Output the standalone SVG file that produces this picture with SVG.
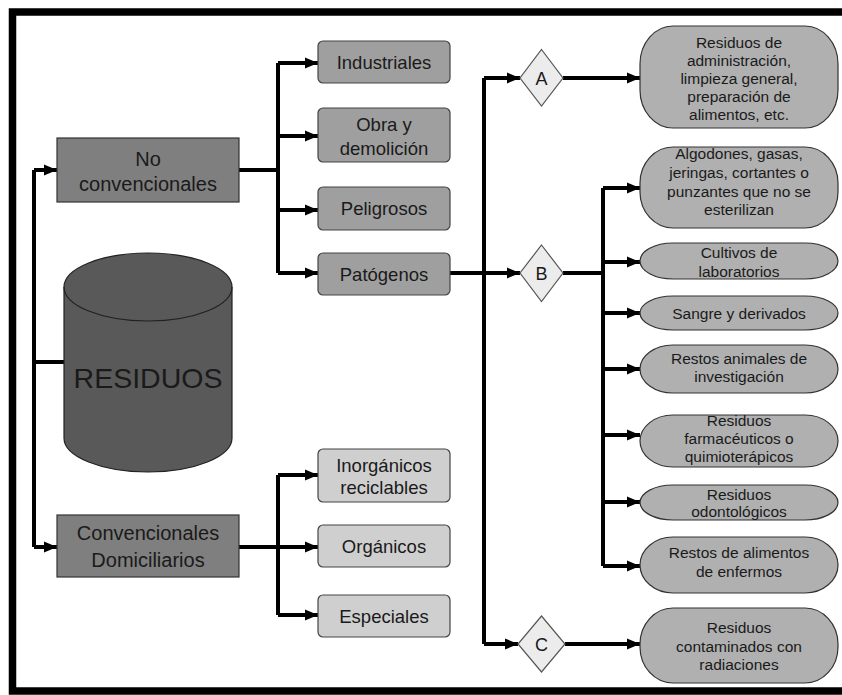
<svg xmlns="http://www.w3.org/2000/svg" width="842" height="695" viewBox="0 0 842 695">
<style>
text{font-family:"Liberation Sans",Arial,sans-serif;fill:#1a1a1a;text-anchor:middle}
.l{font-size:20px}
.m{font-size:18.5px}
.s{font-size:15.5px}
.d{font-size:18px}
.dark{fill:#7f7f7f;stroke:#333;stroke-width:1.2}
.mid{fill:#9f9f9f;stroke:#444;stroke-width:1.2}
.low{fill:#cfcfcf;stroke:#444;stroke-width:1.2}
.oval{fill:#b0b0b0;stroke:#333;stroke-width:1.2}
.dia{fill:#ececec;stroke:#555;stroke-width:1.2}
.c{fill:none;stroke:#000;stroke-width:4}
.a{fill:none;stroke:#000;stroke-width:4;marker-end:url(#ah)}
</style>
<defs>
<marker id="ah" markerUnits="userSpaceOnUse" markerWidth="14" markerHeight="12" refX="13" refY="6" orient="auto">
<path d="M0,0.5 L13,6 L0,11.5 z" fill="#000"/>
</marker>
</defs>
<rect x="0" y="0" width="842" height="695" fill="#fff"/>
<rect id="frame" x="12.5" y="12" width="850" height="679" fill="none" stroke="#000" stroke-width="7.5"/>

<g id="connectors">
<path class="c" d="M34,170 V547 M34,362 H64"/>
<path class="a" d="M34,170 H57"/>
<path class="a" d="M34,547 H57"/>
<path class="c" d="M239,170 H278 M278,63 V273"/>
<path class="a" d="M278,63 H318"/>
<path class="a" d="M278,136 H318"/>
<path class="a" d="M278,210 H318"/>
<path class="a" d="M278,273 H318"/>
<path class="c" d="M239,547 H278 M278,475 V615"/>
<path class="a" d="M278,475 H318"/>
<path class="a" d="M278,547 H318"/>
<path class="a" d="M278,615 H318"/>
<path class="c" d="M484,78 V644"/>
<path class="a" d="M484,78 H520"/>
<path class="a" d="M450,273 H520"/>
<path class="a" d="M484,644 H518"/>
<path class="a" d="M563,78 H640"/>
<path class="a" d="M604,644 H640"/>
<path class="c" d="M565,644 H604"/>
<path class="c" d="M563,273 H603 M603,188 V566"/>
<path class="a" d="M603,188 H640"/>
<path class="a" d="M603,262 H640"/>
<path class="a" d="M603,313 H640"/>
<path class="a" d="M603,369 H640"/>
<path class="a" d="M603,435 H640"/>
<path class="a" d="M603,502 H640"/>
<path class="a" d="M603,566 H640"/>
</g>

<g id="residuos">
<path d="M64,287 V438 A84,34 0 0 0 232,438 V287 A84,34 0 0 0 64,287 Z" fill="#595959" stroke="#222" stroke-width="1.2"/>
<path d="M64,287 A84,34 0 0 0 232,287" fill="none" stroke="#222" stroke-width="1.2"/>
<text x="148" y="388" style="font-size:28.5px">RESIDUOS</text>
</g>

<g id="no-convencionales">
<rect class="dark" x="57" y="138" width="182" height="64"/>
<text class="l" x="148" y="166">No</text>
<text class="l" x="148" y="191">convencionales</text>
</g>
<g id="convencionales">
<rect class="dark" x="57" y="515" width="182" height="62"/>
<text class="l" x="148" y="540">Convencionales</text>
<text class="l" x="148" y="567">Domiciliarios</text>
</g>

<g id="industriales">
<rect class="mid" x="318" y="41" width="132" height="42" rx="5"/>
<text class="m" x="384" y="69">Industriales</text>
</g>
<g id="obra">
<rect class="mid" x="318" y="108" width="132" height="54" rx="5"/>
<text class="m" x="384" y="131">Obra y</text>
<text class="m" x="384" y="155">demolición</text>
</g>
<g id="peligrosos">
<rect class="mid" x="318" y="187" width="132" height="43" rx="5"/>
<text class="m" x="384" y="215">Peligrosos</text>
</g>
<g id="patogenos">
<rect class="mid" x="318" y="253" width="132" height="42" rx="5"/>
<text class="m" x="384" y="281">Patógenos</text>
</g>

<g id="inorganicos">
<rect class="low" x="318" y="449" width="132" height="53" rx="5"/>
<text class="m" x="384" y="472">Inorgánicos</text>
<text class="m" x="384" y="494">reciclables</text>
</g>
<g id="organicos">
<rect class="low" x="318" y="525" width="132" height="42" rx="5"/>
<text class="m" x="384" y="553">Orgánicos</text>
</g>
<g id="especiales">
<rect class="low" x="318" y="595" width="132" height="42" rx="5"/>
<text class="m" x="384" y="623">Especiales</text>
</g>

<g id="A">
<path class="dia" d="M541.5,49.5 L563,78 L541.5,106 L520,78 Z"/>
<text class="d" x="541.5" y="85">A</text>
</g>
<g id="B">
<path class="dia" d="M541.5,245 L563,273 L541.5,301.5 L520,273 Z"/>
<text class="d" x="541.5" y="280">B</text>
</g>
<g id="C">
<path class="dia" d="M541.5,616 L565,644 L541.5,672 L518,644 Z"/>
<text class="d" x="541.5" y="651">C</text>
</g>

<g id="admin">
<rect class="oval" x="640" y="26" width="198" height="102" rx="33" ry="38"/>
<text class="s" x="739" y="48">Residuos de</text>
<text class="s" x="739" y="66">administración,</text>
<text class="s" x="739" y="84">limpieza general,</text>
<text class="s" x="739" y="102">preparación de</text>
<text class="s" x="739" y="120">alimentos, etc.</text>
</g>
<g id="algodones">
<rect class="oval" x="640" y="147" width="198" height="81" rx="33" ry="36"/>
<text class="s" x="739" y="159">Algodones, gasas,</text>
<text class="s" x="739" y="178">jeringas, cortantes o</text>
<text class="s" x="739" y="197">punzantes que no se</text>
<text class="s" x="739" y="215">esterilizan</text>
</g>
<g id="cultivos">
<rect class="oval" x="640" y="243" width="198" height="36" rx="33" ry="18"/>
<text class="s" x="739" y="258">Cultivos de</text>
<text class="s" x="739" y="277">laboratorios</text>
</g>
<g id="sangre">
<rect class="oval" x="640" y="296" width="198" height="34" rx="33" ry="17"/>
<text class="s" x="739" y="319">Sangre y derivados</text>
</g>
<g id="animales">
<rect class="oval" x="640" y="345" width="198" height="48" rx="33" ry="24"/>
<text class="s" x="739" y="364">Restos animales de</text>
<text class="s" x="739" y="382">investigación</text>
</g>
<g id="farmaceuticos">
<rect class="oval" x="640" y="415" width="198" height="52" rx="33" ry="26"/>
<text class="s" x="739" y="426">Residuos</text>
<text class="s" x="739" y="444">farmacéuticos o</text>
<text class="s" x="739" y="462">quimioterápicos</text>
</g>
<g id="odontologicos">
<rect class="oval" x="640" y="485" width="198" height="35" rx="33" ry="17.5"/>
<text class="s" x="739" y="500">Residuos</text>
<text class="s" x="739" y="517">odontológicos</text>
</g>
<g id="alimentos">
<rect class="oval" x="640" y="537" width="198" height="56" rx="33" ry="28"/>
<text class="s" x="739" y="558">Restos de alimentos</text>
<text class="s" x="739" y="577">de enfermos</text>
</g>
<g id="radiaciones">
<rect class="oval" x="640" y="608" width="198" height="75" rx="33" ry="36"/>
<text class="s" x="739" y="633">Residuos</text>
<text class="s" x="739" y="652">contaminados con</text>
<text class="s" x="739" y="670">radiaciones</text>
</g>
</svg>
